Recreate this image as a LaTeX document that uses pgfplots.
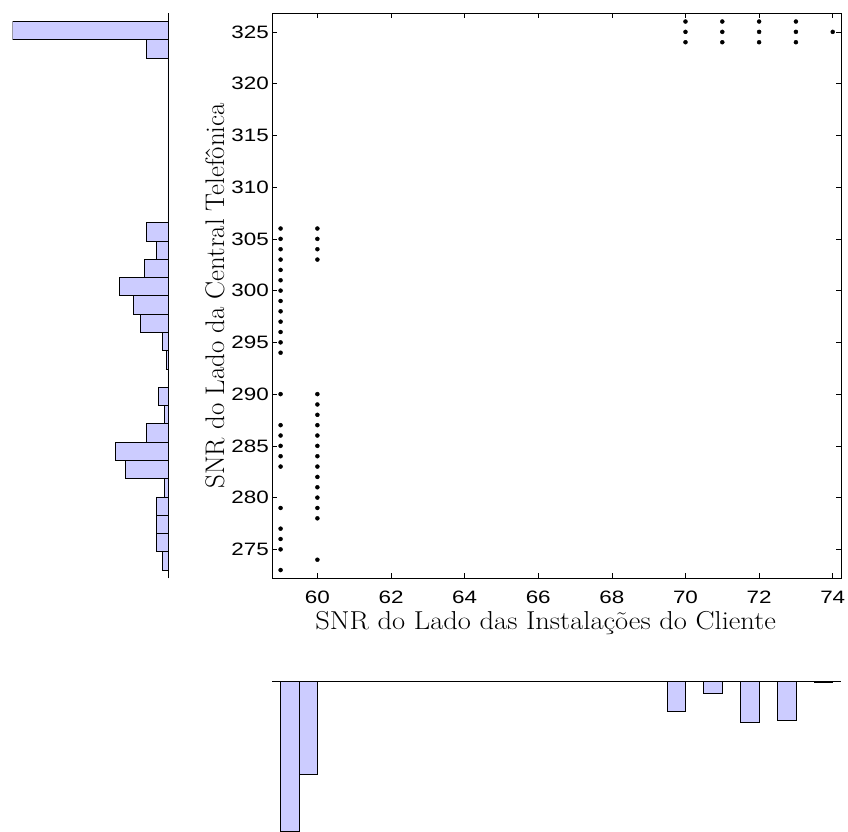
\documentclass[border=0pt]{standalone}
\usepackage{pgfplots}
\pgfplotsset{compat=1.18}
\usepackage{fontspec}
\newfontfamily\tickfont[FakeStretch=1.25]{Liberation Sans}
\definecolor{histfill}{RGB}{204,204,255}
\begin{document}
\begin{tikzpicture}
\path[use as bounding box] (0bp,0bp) rectangle (848bp,832bp);
% main scatter
\begin{axis}[at={(272.3bp,253.7bp)}, anchor=south west, scale only axis,
  width=568.7bp, height=565bp,
  xmin=58.775, xmax=74.225, ymin=272.205, ymax=326.795,
  xtick={60,62,...,74}, ytick={275,280,...,325},
  tick align=inside, major tick length=5bp,
  tick style={black, line width=0.6bp},
  axis line style={line width=0.8bp},
  /pgf/number format/assume math mode=true,
  ticklabel style={font=\tickfont\fontsize{18}{18}\selectfont},
  xticklabel style={yshift=-9bp},
  xlabel={\scalebox{1.1}[1]{SNR do Lado das Instalações do Cliente}},
  ylabel={SNR do Lado da Central Telefônica},
  xlabel style={font=\fontsize{26}{30}\selectfont, yshift=-1bp, xshift=-11bp},
  ylabel style={font=\fontsize{27}{30}\selectfont, yshift=0bp},
]
\addplot[only marks, mark=*, mark size=2bp, black] coordinates {
(59,306) (59,305) (59,304) (59,303) (59,302) (59,301) (59,300) (59,299) (59,298) (59,297) (59,296) (59,295) (59,294)
(59,290) (59,287) (59,286) (59,285) (59,284) (59,283) (59,279) (59,277) (59,276) (59,275) (59,273)
(60,306) (60,305) (60,304) (60,303)
(60,290) (60,289) (60,288) (60,287) (60,286) (60,285) (60,284) (60,283) (60,282) (60,281) (60,280) (60,279) (60,278) (60,274)
(70,326) (70,325) (70,324) (71,326) (71,325) (71,324) (72,326) (72,325) (72,324) (73,326) (73,325) (73,324) (74,325)
};
\end{axis}
% left histogram
\begin{axis}[at={(12.7bp,253.7bp)}, anchor=south west, scale only axis,
  width=155.3bp, height=565bp,
  xmin=0, xmax=80, x dir=reverse,
  ymin=272.205, ymax=326.795,
  axis x line=none, axis y line=middle,
  axis line style={-, line width=0.8bp},
  xtick=\empty, ytick=\empty,
]
\addplot[xbar interval, fill=histfill, draw=black, line width=0.8bp] coordinates {
(3,273.000) (6,274.767) (6,276.533) (6,278.300) (2,280.067) (22,281.833) (27,283.600) (11,285.367)
(2,287.133) (5,288.900) (0,290.667) (1,292.433) (3,294.200) (14,295.967) (18,297.733) (25,299.500)
(12,301.267) (6,303.033) (11,304.800) (0,306.567) (0,308.333) (0,310.100) (0,311.867) (0,313.633)
(0,315.400) (0,317.167) (0,318.933) (0,320.700) (11,322.467) (80,324.233) (80,326.000)
};
\end{axis}
% bottom histogram
\begin{axis}[at={(272.3bp,0.4bp)}, anchor=south west, scale only axis,
  width=568.7bp, height=150.3bp,
  xmin=58.775, xmax=74.225,
  ymin=0, ymax=111, y dir=reverse,
  axis y line=none, axis x line=middle,
  axis line style={-, line width=0.8bp},
  xtick=\empty, ytick=\empty,
]
\addplot[ybar interval, fill=histfill, draw=black, line width=0.8bp] coordinates {
(59.0,111) (59.5,69) (60.0,0) (60.5,0) (61.0,0) (61.5,0) (62.0,0) (62.5,0) (63.0,0) (63.5,0)
(64.0,0) (64.5,0) (65.0,0) (65.5,0) (66.0,0) (66.5,0) (67.0,0) (67.5,0) (68.0,0) (68.5,0)
(69.0,0) (69.5,22) (70.0,0) (70.5,9) (71.0,0) (71.5,30) (72.0,0) (72.5,29) (73.0,0) (73.5,1) (74.0,1)
};
\end{axis}
\end{tikzpicture}
\end{document}
